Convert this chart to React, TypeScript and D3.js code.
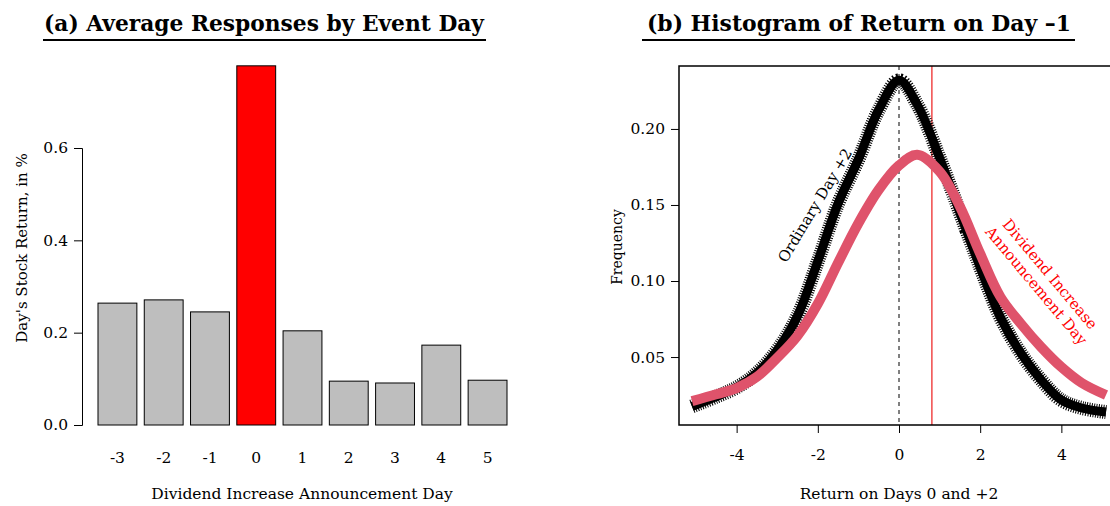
import { axisBottom, axisLeft, curveCatmullRom, format, line, scaleBand, scaleLinear, select } from 'd3';
import { useEffect, useRef } from 'react';

// panel (a): average response by event day
const days = ['-3', '-2', '-1', '0', '1', '2', '3', '4', '5'];
const dayReturns = [0.264, 0.271, 0.245, 0.778, 0.204, 0.095, 0.091, 0.173, 0.097];
const leftTicks = [0, 0.2, 0.4, 0.6];

// panel (b): density of returns
const returnGrid = [-5.1, -4.5, -4, -3.5, -3, -2.5, -2, -1.5, -1, -0.5, 0, 0.45, 1, 1.5, 2, 2.5, 3, 3.5, 4, 4.5, 5.1];
const ordinaryDay = [0.0175, 0.024, 0.03, 0.0395, 0.0546, 0.077, 0.113, 0.151, 0.18, 0.2125, 0.232, 0.216, 0.181, 0.145, 0.109, 0.076, 0.0526, 0.035, 0.0217, 0.0165, 0.0138];
const announceDay = [0.021, 0.0255, 0.0296, 0.037, 0.0495, 0.064, 0.085, 0.112, 0.138, 0.16, 0.176, 0.183, 0.172, 0.149, 0.118, 0.0895, 0.072, 0.0566, 0.0434, 0.033, 0.025];
const rightXTicks = [-4, -2, 0, 2, 4];
const rightYTicks = [0.05, 0.1, 0.15, 0.2];
const announceReturn = 0.81;

const FONT = '"DejaVu Serif", serif';

export default function App() {
  const gyL = useRef(null);
  const gxR = useRef(null);
  const gyR = useRef(null);

  useEffect(() => {
    document.body.style.margin = '0';
  }, []);

  const xL = scaleBand().domain(days).range([98, 507]).paddingInner(0.16).paddingOuter(0);
  const yL = scaleLinear().domain([0, 0.6]).range([425, 148]);

  const xR = scaleLinear().domain([-5.42, 5.42]).range([679, 1119]);
  const yR = scaleLinear().domain([0.0053, 0.2414]).range([425, 66]);

  const curve = (vals: number[]) =>
    line<number>()
      .x((_, i) => xR(returnGrid[i]))
      .y((d) => yR(d))
      .curve(curveCatmullRom)(vals);

  useEffect(() => {
    const style = (g: any) => {
      g.select('.domain').attr('stroke', '#000');
      g.selectAll('.tick line').attr('stroke', '#000');
      g.selectAll('.tick text').attr('font-family', FONT).attr('font-size', 15.5).attr('fill', '#000');
    };
    select(gyL.current)
      .call(axisLeft(yL).tickValues(leftTicks).tickFormat(format('.1f')).tickSizeOuter(0).tickSize(8).tickPadding(6))
      .call(style);
    select(gyR.current)
      .call(axisLeft(yR).tickValues(rightYTicks).tickFormat(format('.2f')).tickSizeOuter(0).tickSize(8).tickPadding(6))
      .call(style)
      .call((g: any) => g.select('.domain').remove());
    select(gxR.current)
      .call(
        axisBottom(xR)
          .tickValues(rightXTicks)
          .tickFormat((d: any) => String(d))
          .tickSizeOuter(0)
          .tickSize(8)
          .tickPadding(16),
      )
      .call(style)
      .call((g: any) => g.select('.domain').remove());
  }, []);

  return (
    <svg width={1110} height={506} style={{ display: 'block', background: '#fff' }} fontFamily={FONT}>
      {/* titles */}
      <text x={264} y={31} textAnchor='middle' fontWeight='bold' fontSize={23} textLength={440} lengthAdjust='spacingAndGlyphs'>
        (a) Average Responses by Event Day
      </text>
      <line x1={43} x2={486} y1={40} y2={40} stroke='#000' strokeWidth={2} />
      <text x={859} y={31} textAnchor='middle' fontWeight='bold' fontSize={23} textLength={424} lengthAdjust='spacingAndGlyphs'>
        (b) Histogram of Return on Day –1
      </text>
      <line x1={642} x2={1075} y1={40} y2={40} stroke='#000' strokeWidth={2} />

      {/* panel a */}
      <g>
        {days.map((d, i) => (
          <rect
            key={d}
            x={xL(d)}
            width={xL.bandwidth()}
            y={yL(dayReturns[i])}
            height={yL(0) - yL(dayReturns[i])}
            fill={d === '0' ? '#FF0000' : '#BEBEBE'}
            stroke='#000'
            strokeWidth={1}
          />
        ))}
        {days.map((d) => (
          <text key={d} x={xL(d)! + xL.bandwidth() / 2} y={463} textAnchor='middle' fontSize={15.5}>
            {d}
          </text>
        ))}
      </g>
      <g ref={gyL} transform='translate(82,0)' />
      <text x={302} y={499} textAnchor='middle' fontSize={15.5}>
        Dividend Increase Announcement Day
      </text>
      <text transform='translate(27,248) rotate(-90)' textAnchor='middle' fontSize={15}>
        Day's Stock Return, in %
      </text>

      {/* panel b */}
      <line x1={xR(0)} x2={xR(0)} y1={66} y2={425} stroke='#000' strokeDasharray='4,4' strokeWidth={1} />
      <line x1={xR(announceReturn)} x2={xR(announceReturn)} y1={66} y2={425} stroke='#F04848' strokeWidth={1.5} />
      {/* hatched edge from the dense point markers */}
      <path d={curve(ordinaryDay)!} fill='none' stroke='#000' strokeWidth={14} strokeDasharray='1,1.4' />
      <path d={curve(ordinaryDay)!} fill='none' stroke='#000' strokeWidth={9} />
      <path d={curve(announceDay)!} fill='none' stroke='#DF536B' strokeWidth={10} />
      <path d={`M${xR.range()[1]},66H679V425H${xR.range()[1]}`} fill='none' stroke='#000' strokeWidth={1.5} />
      <g ref={gyR} transform='translate(679,0)' />
      <g ref={gxR} transform='translate(0,425)' />
      <text x={899} y={499} textAnchor='middle' fontSize={15.5}>
        Return on Days 0 and +2
      </text>
      <text transform='translate(622,247) rotate(-90)' textAnchor='middle' fontSize={14}>
        Frequency
      </text>
      <text transform='translate(816,206) rotate(-59)' textAnchor='middle' dominantBaseline='middle' fontSize={15}>
        Ordinary Day +2
      </text>
      <g transform='translate(1043,280) rotate(50)' fill='#FF0000' fontSize={15} textAnchor='middle'>
        <text x={0} y={-4}>Dividend Increase</text>
        <text x={0} y={14}>Announcement Day</text>
      </g>
    </svg>
  );
}
